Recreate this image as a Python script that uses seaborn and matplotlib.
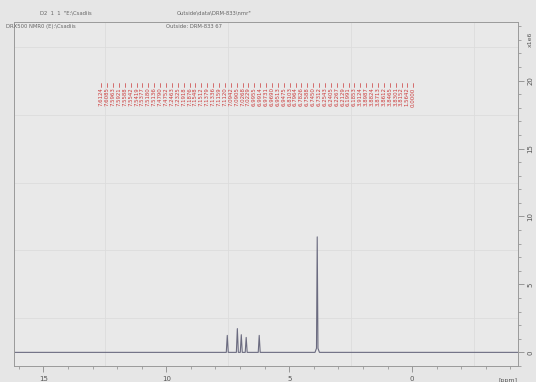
import numpy as np
import pandas as pd
import seaborn as sns
import matplotlib.pyplot as plt
from matplotlib.ticker import MultipleLocator

# spectrum: shift (ppm) and intensity
ppm = [16.2, 7.56, 7.52, 7.48, 7.15, 7.11, 7.07, 6.99, 6.95, 6.91,
       6.79, 6.75, 6.71, 6.26, 6.22, 6.18, 3.95, 3.89, 3.86, 3.83, 3.77, -4.3]
intensity = [0, 0, 1.25, 0, 0, 1.75, 0, 0, 1.3, 0,
             0, 1.1, 0, 0, 1.25, 0, 0, 0.3, 8.5, 0.3, 0, 0]

# peak-pick labels (red, along the top)
peak_labels = ['7.6124', '7.6085', '7.5963', '7.5921', '7.5588', '7.5542', '7.5419',
               '7.5377', '7.5180', '7.5136', '7.4790', '7.4752', '7.2463', '7.2325',
               '7.1918', '7.1876', '7.1548', '7.1512', '7.1379', '7.1336', '7.1159',
               '7.1120', '7.0942', '7.0905', '7.0268', '7.0229', '6.9955', '6.9914',
               '6.9731', '6.9690', '6.9513', '6.9475', '6.8103', '6.7964', '6.7826',
               '6.7588', '6.7450', '6.7312', '6.2543', '6.2405', '6.2267', '6.2129',
               '6.1991', '6.1853', '3.9124', '3.8987', '3.8824', '3.8713', '3.8612',
               '3.8465', '3.8301', '3.8152', '1.5642', '0.0000']

x_ticks = [15, 10, 5, 0]
y_ticks = [0, 5, 10, 15, 20]

spec = pd.DataFrame({'ppm': ppm, 'intensity': intensity})

sns.set_theme(style='white')
plt.rcParams['font.family'] = ['DejaVu Sans']

fig = plt.figure(figsize=(5.36, 3.82), dpi=100)
fig.patch.set_facecolor('#e6e6e6')
ax = fig.add_axes([0.026, 0.042, 0.940, 0.900])
ax.set_facecolor('#e9e9e9')

sns.lineplot(data=spec, x='ppm', y='intensity', ax=ax, sort=False,
             color='#6b6b80', linewidth=0.8)

ax.set_xlim(16.2, -4.3)
ax.set_ylim(-1.0, 24.3)

# faint grid
for g in x_ticks:
    ax.axvline(g - 2.5, color='#dcdcdc', lw=0.6, zorder=0)
for g in y_ticks:
    ax.axhline(g + 2.5, color='#dcdcdc', lw=0.6, zorder=0)

# red peak labels
label_x = np.linspace(12.65, -0.05, len(peak_labels))
for xp, lab in zip(label_x, peak_labels):
    ax.text(xp, 18.8, lab, rotation=90, color='#cc3b3b', fontsize=3.9,
            ha='center', va='center')
    ax.plot([xp, xp], [19.55, 19.8], color='#cc3b3b', lw=0.5)

# axes: x at bottom, y on the right
ax.set_xticks(x_ticks)
ax.set_xticklabels([str(t) for t in x_ticks])
ax.xaxis.set_minor_locator(MultipleLocator(1))
ax.yaxis.tick_right()
ax.set_yticks(y_ticks)
ax.set_yticklabels([str(t) for t in y_ticks], rotation=90, va='center')
ax.yaxis.set_minor_locator(MultipleLocator(1))
ax.tick_params(axis='both', which='major', length=4, width=0.6, color='#8a8a8a',
               labelsize=5, labelcolor='#555555', pad=3)
ax.tick_params(axis='both', which='minor', length=2, width=0.5, color='#8a8a8a')
ax.tick_params(axis='x', bottom=True, which='both')
ax.tick_params(axis='y', right=True, left=False, which='both')
ax.set_xlabel('')
ax.set_ylabel('')
for s in ax.spines.values():
    s.set_color('#9a9a9a')
    s.set_linewidth(0.7)

ax.text(1.0, -0.035, '[ppm]', transform=ax.transAxes, fontsize=4.5,
        color='#555555', ha='right', va='top')
ax.text(1.025, 0.95, 'x1e6', transform=ax.transAxes, fontsize=4.5,
        color='#555555', rotation=90, ha='center', va='center')

# header lines
fig.text(0.075, 0.962, 'D2  1  1  "E:\\Csadiis', fontsize=3.8, color='#666666')
fig.text(0.33, 0.962, 'Outside\\data\\DRM-833\\nmr"', fontsize=3.8, color='#666666')
fig.text(0.012, 0.927, 'DRX500 NMR0 (E):\\Csadiis', fontsize=3.8, color='#666666')
fig.text(0.31, 0.927, 'Outside: DRM-833 67', fontsize=3.8, color='#666666')

fig.savefig('out.png', dpi=100, facecolor=fig.get_facecolor())
